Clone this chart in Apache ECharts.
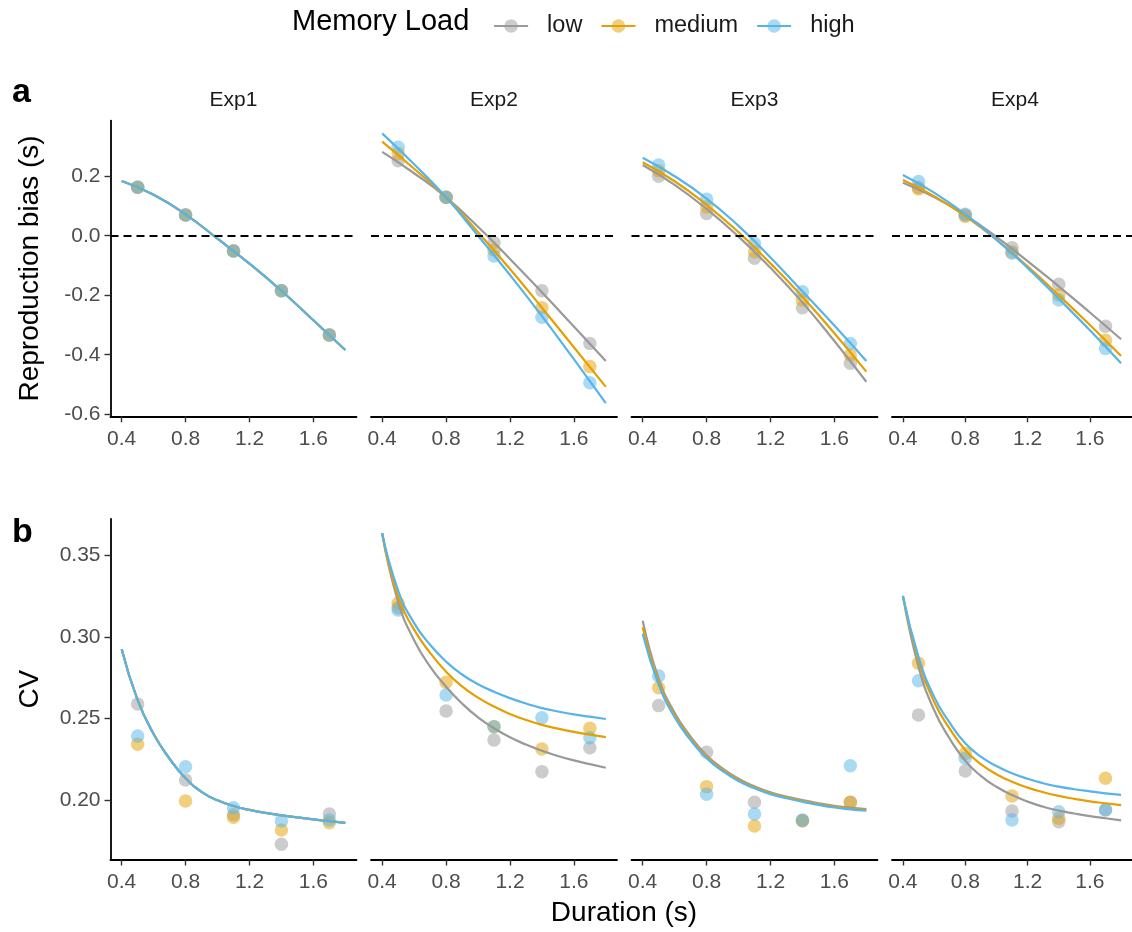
<!DOCTYPE html>
<html>
<head>
<meta charset="utf-8">
<script src="https://cdn.jsdelivr.net/npm/echarts@6/dist/echarts.min.js"></script>
<style>
  html, body { margin: 0; padding: 0; background: #fff; }
  #chart { width: 1132px; height: 932px; }
</style>
</head>
<body>
<div id="chart"></div>
<script>
// ---- data -------------------------------------------------------------
const experiments = ['Exp1', 'Exp2', 'Exp3', 'Exp4'];
const loads = ['low', 'medium', 'high'];
const durations = [0.5, 0.8, 1.1, 1.4, 1.7];
const xTicks = [0.4, 0.8, 1.2, 1.6];
const biasTicks = [-0.6, -0.4, -0.2, 0, 0.2];
const cvTicks = [0.20, 0.25, 0.30, 0.35];

// durations at which the fitted curves are sampled
const biasFitX = [0.4, 0.6, 0.8, 1.0, 1.2, 1.4, 1.6, 1.8];
const cvFitX = [0.4, 0.5, 0.6, 0.7, 0.8, 0.9, 1.0, 1.1, 1.2, 1.3, 1.4, 1.5, 1.6, 1.7, 1.8];

// observed reproduction bias (s) per duration
const biasObsExp1 = { low: [0.163, 0.070, -0.051, -0.185, -0.334], medium: [0.163, 0.070, -0.051, -0.185, -0.334], high: [0.163, 0.070, -0.051, -0.185, -0.334] };
const biasObsExp2 = { low: [0.252, 0.129, -0.023, -0.185, -0.362], medium: [0.276, 0.129, -0.048, -0.242, -0.440], high: [0.297, 0.129, -0.068, -0.274, -0.494] };
const biasObsExp3 = { low: [0.200, 0.075, -0.076, -0.242, -0.429], medium: [0.218, 0.097, -0.054, -0.216, -0.401], high: [0.238, 0.123, -0.026, -0.188, -0.362] };
const biasObsExp4 = { low: [0.162, 0.072, -0.040, -0.163, -0.304], medium: [0.157, 0.065, -0.055, -0.199, -0.351], high: [0.182, 0.070, -0.059, -0.216, -0.379] };

// fitted reproduction bias (s) at biasFitX
const biasFitExp1 = { low: [0.184, 0.138, 0.072, -0.010, -0.094, -0.185, -0.284, -0.384], medium: [0.184, 0.138, 0.072, -0.010, -0.094, -0.185, -0.284, -0.384], high: [0.184, 0.138, 0.072, -0.010, -0.094, -0.185, -0.284, -0.384] };
const biasFitExp2 = { low: [0.282, 0.210, 0.129, 0.030, -0.078, -0.190, -0.305, -0.421], medium: [0.316, 0.225, 0.129, 0.012, -0.112, -0.242, -0.375, -0.508], high: [0.344, 0.240, 0.129, 0.000, -0.132, -0.270, -0.415, -0.563] };
const biasFitExp3 = { low: [0.238, 0.171, 0.090, -0.003, -0.108, -0.224, -0.354, -0.491], medium: [0.247, 0.183, 0.104, 0.012, -0.093, -0.205, -0.328, -0.457], high: [0.262, 0.200, 0.125, 0.033, -0.073, -0.187, -0.302, -0.421] };
const biasFitExp4 = { low: [0.178, 0.130, 0.069, -0.004, -0.085, -0.170, -0.258, -0.348], medium: [0.187, 0.133, 0.066, -0.013, -0.103, -0.200, -0.300, -0.404], high: [0.204, 0.145, 0.072, -0.013, -0.108, -0.212, -0.318, -0.429] };

// observed coefficient of variation per duration
const cvObsExp1 = { low: [0.2589, 0.2123, 0.1910, 0.1728, 0.1914], medium: [0.2342, 0.1994, 0.1894, 0.1816, 0.1861], high: [0.2393, 0.2204, 0.1953, 0.1871, 0.1877] };
const cvObsExp2 = { low: [0.3180, 0.2546, 0.2368, 0.2174, 0.2321], medium: [0.3207, 0.2722, 0.2450, 0.2313, 0.2440], high: [0.3166, 0.2644, 0.2450, 0.2505, 0.2382] };
const cvObsExp3 = { low: [0.2579, 0.2293, 0.1986, 0.1873, 0.1986], medium: [0.2689, 0.2082, 0.1840, 0.1873, 0.1986], high: [0.2761, 0.2035, 0.1914, 0.1877, 0.2210] };
const cvObsExp4 = { low: [0.2521, 0.2178, 0.1933, 0.1867, 0.1940], medium: [0.2839, 0.2286, 0.2025, 0.1888, 0.2133], high: [0.2732, 0.2256, 0.1877, 0.1928, 0.1939] };

// fitted coefficient of variation at cvFitX
const cvFitExp1 = {
  low:    [0.2925, 0.2613, 0.2405, 0.2253, 0.2133, 0.2050, 0.1998, 0.1963, 0.1939, 0.1921, 0.1906, 0.1893, 0.1881, 0.1870, 0.1860],
  medium: [0.2925, 0.2613, 0.2405, 0.2253, 0.2133, 0.2050, 0.1998, 0.1963, 0.1939, 0.1921, 0.1906, 0.1893, 0.1881, 0.1870, 0.1860],
  high:   [0.2925, 0.2613, 0.2405, 0.2253, 0.2133, 0.2050, 0.1998, 0.1963, 0.1939, 0.1921, 0.1906, 0.1893, 0.1881, 0.1870, 0.1860]
};
const cvFitExp2 = {
  low:    [0.3636, 0.3215, 0.2980, 0.2818, 0.2695, 0.2592, 0.2507, 0.2440, 0.2385, 0.2340, 0.2302, 0.2270, 0.2243, 0.2220, 0.2198],
  medium: [0.3636, 0.3245, 0.3045, 0.2903, 0.2787, 0.2697, 0.2628, 0.2573, 0.2528, 0.2491, 0.2461, 0.2438, 0.2418, 0.2401, 0.2386],
  high:   [0.3636, 0.3285, 0.3085, 0.2952, 0.2849, 0.2770, 0.2710, 0.2664, 0.2625, 0.2592, 0.2564, 0.2543, 0.2525, 0.2511, 0.2497]
};
const cvFitExp3 = {
  low:    [0.3100, 0.2745, 0.2535, 0.2389, 0.2275, 0.2194, 0.2130, 0.2084, 0.2047, 0.2021, 0.1999, 0.1980, 0.1964, 0.1953, 0.1944],
  medium: [0.3060, 0.2726, 0.2521, 0.2378, 0.2266, 0.2186, 0.2123, 0.2078, 0.2041, 0.2016, 0.1994, 0.1975, 0.1959, 0.1948, 0.1939],
  high:   [0.3020, 0.2708, 0.2508, 0.2367, 0.2257, 0.2178, 0.2116, 0.2072, 0.2036, 0.2011, 0.1989, 0.1970, 0.1954, 0.1943, 0.1934]
};
const cvFitExp4 = {
  low:    [0.3252, 0.2818, 0.2552, 0.2377, 0.2241, 0.2148, 0.2081, 0.2030, 0.1990, 0.1959, 0.1935, 0.1917, 0.1901, 0.1888, 0.1875],
  medium: [0.3252, 0.2859, 0.2603, 0.2438, 0.2307, 0.2220, 0.2158, 0.2112, 0.2076, 0.2048, 0.2025, 0.2007, 0.1992, 0.1980, 0.1968],
  high:   [0.3252, 0.2879, 0.2634, 0.2474, 0.2348, 0.2266, 0.2208, 0.2164, 0.2130, 0.2103, 0.2082, 0.2066, 0.2053, 0.2041, 0.2031]
};

// ---- styling & layout ---------------------------------------------------
const palette = { low: '#999999', medium: '#E69F00', high: '#56B4E9' };
const FONT = '"Liberation Sans", Arial, Helvetica, sans-serif';
const panelLeft = [110.5, 371, 631.5, 892];
const panelWidth = 246;
const rowTop = [120.6, 518.8];
const rowHeight = [295.7, 340.7];
const xRange = [0.33, 1.87];
const yRange = [[-0.607, 0.387], [0.1635, 0.3725]];

const rows = [
  { obs: [biasObsExp1, biasObsExp2, biasObsExp3, biasObsExp4], fit: [biasFitExp1, biasFitExp2, biasFitExp3, biasFitExp4], fitX: biasFitX, ticks: biasTicks, digits: 1, name: 'Reproduction bias (s)' },
  { obs: [cvObsExp1, cvObsExp2, cvObsExp3, cvObsExp4], fit: [cvFitExp1, cvFitExp2, cvFitExp3, cvFitExp4], fitX: cvFitX, ticks: cvTicks, digits: 2, name: 'CV' }
];

const pairs = (xs, ys) => xs.map((x, i) => [x, ys[i]]);

const grid = [], xAxis = [], yAxis = [], lineSeries = [], pointSeries = [];

rows.forEach((row, r) => {
  experiments.forEach((exp, p) => {
    const idx = r * 4 + p;
    grid.push({ left: panelLeft[p], top: rowTop[r], width: panelWidth, height: rowHeight[r], containLabel: false });
    xAxis.push({
      type: 'value', gridIndex: idx, min: xRange[0], max: xRange[1],
      splitLine: { show: false },
      axisLine: { show: true, onZero: false, lineStyle: { color: '#000', width: 1.8 } },
      axisTick: { show: true, length: 6, customValues: xTicks, lineStyle: { color: '#333', width: 1.4 } },
      axisLabel: { show: true, customValues: xTicks, margin: 12, fontSize: 21, color: '#4d4d4d', fontFamily: FONT, formatter: v => v.toFixed(1) }
    });
    const first = p === 0;
    yAxis.push({
      type: 'value', gridIndex: idx, min: yRange[r][0], max: yRange[r][1],
      splitLine: { show: false },
      axisLine: { show: first, onZero: false, lineStyle: { color: '#000', width: 1.8 } },
      axisTick: { show: first, length: 6, customValues: row.ticks, lineStyle: { color: '#333', width: 1.4 } },
      axisLabel: { show: first, customValues: row.ticks, margin: 10, fontSize: 21, color: '#4d4d4d', fontFamily: FONT, formatter: v => v.toFixed(row.digits) },
      name: first ? row.name : '',
      nameLocation: 'middle', nameGap: 66, nameRotate: 90,
      nameTextStyle: { fontSize: 28, color: '#000', fontFamily: FONT }
    });

    loads.forEach((load, k) => {
      pointSeries.push({
        type: 'scatter', name: load, xAxisIndex: idx, yAxisIndex: idx,
        data: pairs(durations, row.obs[p][load]),
        symbol: 'circle', symbolSize: 13.5, silent: true, z: 2,
        itemStyle: { color: palette[load], opacity: 0.5 }
      });
      const s = {
        type: 'line', name: load, xAxisIndex: idx, yAxisIndex: idx,
        data: pairs(row.fitX, row.fit[p][load]),
        smooth: 0.5, showSymbol: false, symbol: 'circle',
        silent: true, z: 3,
        lineStyle: { color: palette[load], width: 2.2 },
        itemStyle: { color: palette[load], opacity: 0.5 }
      };
      if (r === 0 && k === 0) {
        s.markLine = {
          silent: true, symbol: ['none', 'none'], label: { show: false },
          lineStyle: { color: '#000', width: 1.8, type: [8, 5] },
          data: [{ yAxis: 0 }]
        };
      }
      lineSeries.push(s);
    });
  });
});

const graphic = [];
experiments.forEach((exp, p) => {
  graphic.push({
    type: 'text', x: panelLeft[p] + panelWidth / 2, y: 100,
    style: { text: exp, font: '21px ' + FONT, fill: '#1a1a1a', textAlign: 'center', textVerticalAlign: 'middle' }
  });
});
graphic.push(
  { type: 'text', x: 12, y: 93, style: { text: 'a', font: 'bold 34px ' + FONT, fill: '#000', textAlign: 'left', textVerticalAlign: 'middle' } },
  { type: 'text', x: 12, y: 533, style: { text: 'b', font: 'bold 34px ' + FONT, fill: '#000', textAlign: 'left', textVerticalAlign: 'middle' } },
  { type: 'text', x: 624, y: 913, style: { text: 'Duration (s)', font: '28px ' + FONT, fill: '#000', textAlign: 'center', textVerticalAlign: 'middle' } },
  { type: 'text', x: 292, y: 22, style: { text: 'Memory Load', font: '29px ' + FONT, fill: '#000', textAlign: 'left', textVerticalAlign: 'middle' } }
);

const chart = echarts.init(document.getElementById('chart'), null, { renderer: 'canvas' });
chart.setOption({
  animation: false,
  backgroundColor: '#fff',
  textStyle: { fontFamily: FONT },
  grid, xAxis, yAxis,
  legend: {
    data: loads, left: 493, top: 14, padding: 0, orient: 'horizontal',
    itemWidth: 34, itemHeight: 17, itemGap: 18, selectedMode: false,
    itemStyle: { opacity: 0.5, borderWidth: 0 },
    lineStyle: { width: 2.2 },
    textStyle: { fontSize: 23.5, color: '#1a1a1a', fontFamily: FONT, padding: [0, 0, 0, 14] }
  },
  series: lineSeries.concat(pointSeries),
  graphic
});
</script>
</body>
</html>
